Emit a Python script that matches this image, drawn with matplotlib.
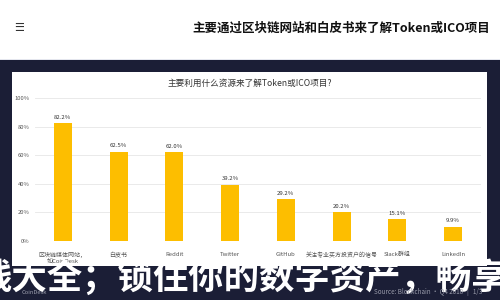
import matplotlib.pyplot as plt
from matplotlib.patches import Rectangle

plt.rcParams['font.family'] = ['Noto Sans CJK SC', 'DejaVu Sans']

# data
categories = ["区块链媒体网站，\n如CoinDesk", "白皮书", "Reddit", "Twitter", "GitHub",
              "关注专业买方投资户的信号", "Slack群组", "LinkedIn"]
values = [82.2, 62.5, 62.0, 39.2, 29.2, 20.2, 15.1, 9.9]
yticks = [0, 20, 40, 60, 80, 100]

header_title = "主要通过区块链网站和白皮书来了解Token或ICO项目"
chart_title = "主要利用什么资源来了解Token或ICO项目?"
overlay = "钱大全；锁住你的数字资产，畅享"
source = "Source: Blockchain · Q4 2018   |   1/3"

navy = "#1b1e36"
yellow = "#FDBE00"

fig = plt.figure(figsize=(5, 3), dpi=100, facecolor=navy)

# white header strip and white chart panel
fig.patches.append(Rectangle((0, 1 - 59 / 300), 1, 59 / 300, transform=fig.transFigure,
                             facecolor="white", edgecolor="none", zorder=-2))
fig.patches.append(Rectangle((0, 1 - 59.5 / 300), 1, 0.8 / 300, transform=fig.transFigure,
                             facecolor="#e4e6ee", edgecolor="none", zorder=-2))
fig.patches.append(Rectangle((12 / 500, 1 - 266 / 300), 475 / 500, 194 / 300,
                             transform=fig.transFigure, facecolor="white",
                             edgecolor="none", zorder=-2))

fig.text(14 / 500, 1 - 28 / 300, "☰", fontsize=8, color="#333333",
         ha="left", va="center", family="DejaVu Sans")
fig.text(490 / 500, 1 - 28 / 300, header_title, fontsize=9, color="#111111",
         fontweight="bold", ha="right", va="center")

ax = fig.add_axes([35 / 500, 59 / 300, 446 / 500, 143 / 300], zorder=1)
ax.set_facecolor("none")
x = range(len(categories))
bars = ax.bar(x, values, width=0.32, color=yellow, zorder=2)
for b, v in zip(bars, values):
    ax.text(b.get_x() + b.get_width() / 2, v + 2.5, f"{v}%", ha="center", va="bottom",
            fontsize=4.3, color="#333333")

ax.set_xlim(-0.5, len(categories) - 0.5)
ax.set_ylim(0, 100)
ax.set_yticks(yticks)
ax.set_yticklabels([f"{t}%" for t in yticks], fontsize=4.2, color="#555555")
ax.set_xticks(list(x))
ax.set_xticklabels(categories, fontsize=4.3, color="#555555", linespacing=1.1)
ax.tick_params(axis="y", length=0, pad=4)
ax.tick_params(axis="x", length=0, pad=8)
ax.yaxis.grid(True, color="#e6e6e6", linewidth=0.6, zorder=0)
for s in ax.spines.values():
    s.set_visible(False)

fig.text(250 / 500, 1 - 83 / 300, chart_title, fontsize=6.2, color="#333333",
         ha="center", va="center")

# overlay caption
fig.text(-24 / 500, 1 - 277 / 300, overlay, fontsize=25.5, color="white",
         fontweight="bold", ha="left", va="center", zorder=5)
fig.text(482 / 500, 1 - 292 / 300, source, fontsize=4.5, color="#9a9cab",
         ha="right", va="center", zorder=6)
fig.text(22 / 500, 1 - 292 / 300, "CoinDesk", fontsize=4.2, color="#9a9cab",
         ha="left", va="center", zorder=6)

fig.savefig("out.png", dpi=100, facecolor=navy)
